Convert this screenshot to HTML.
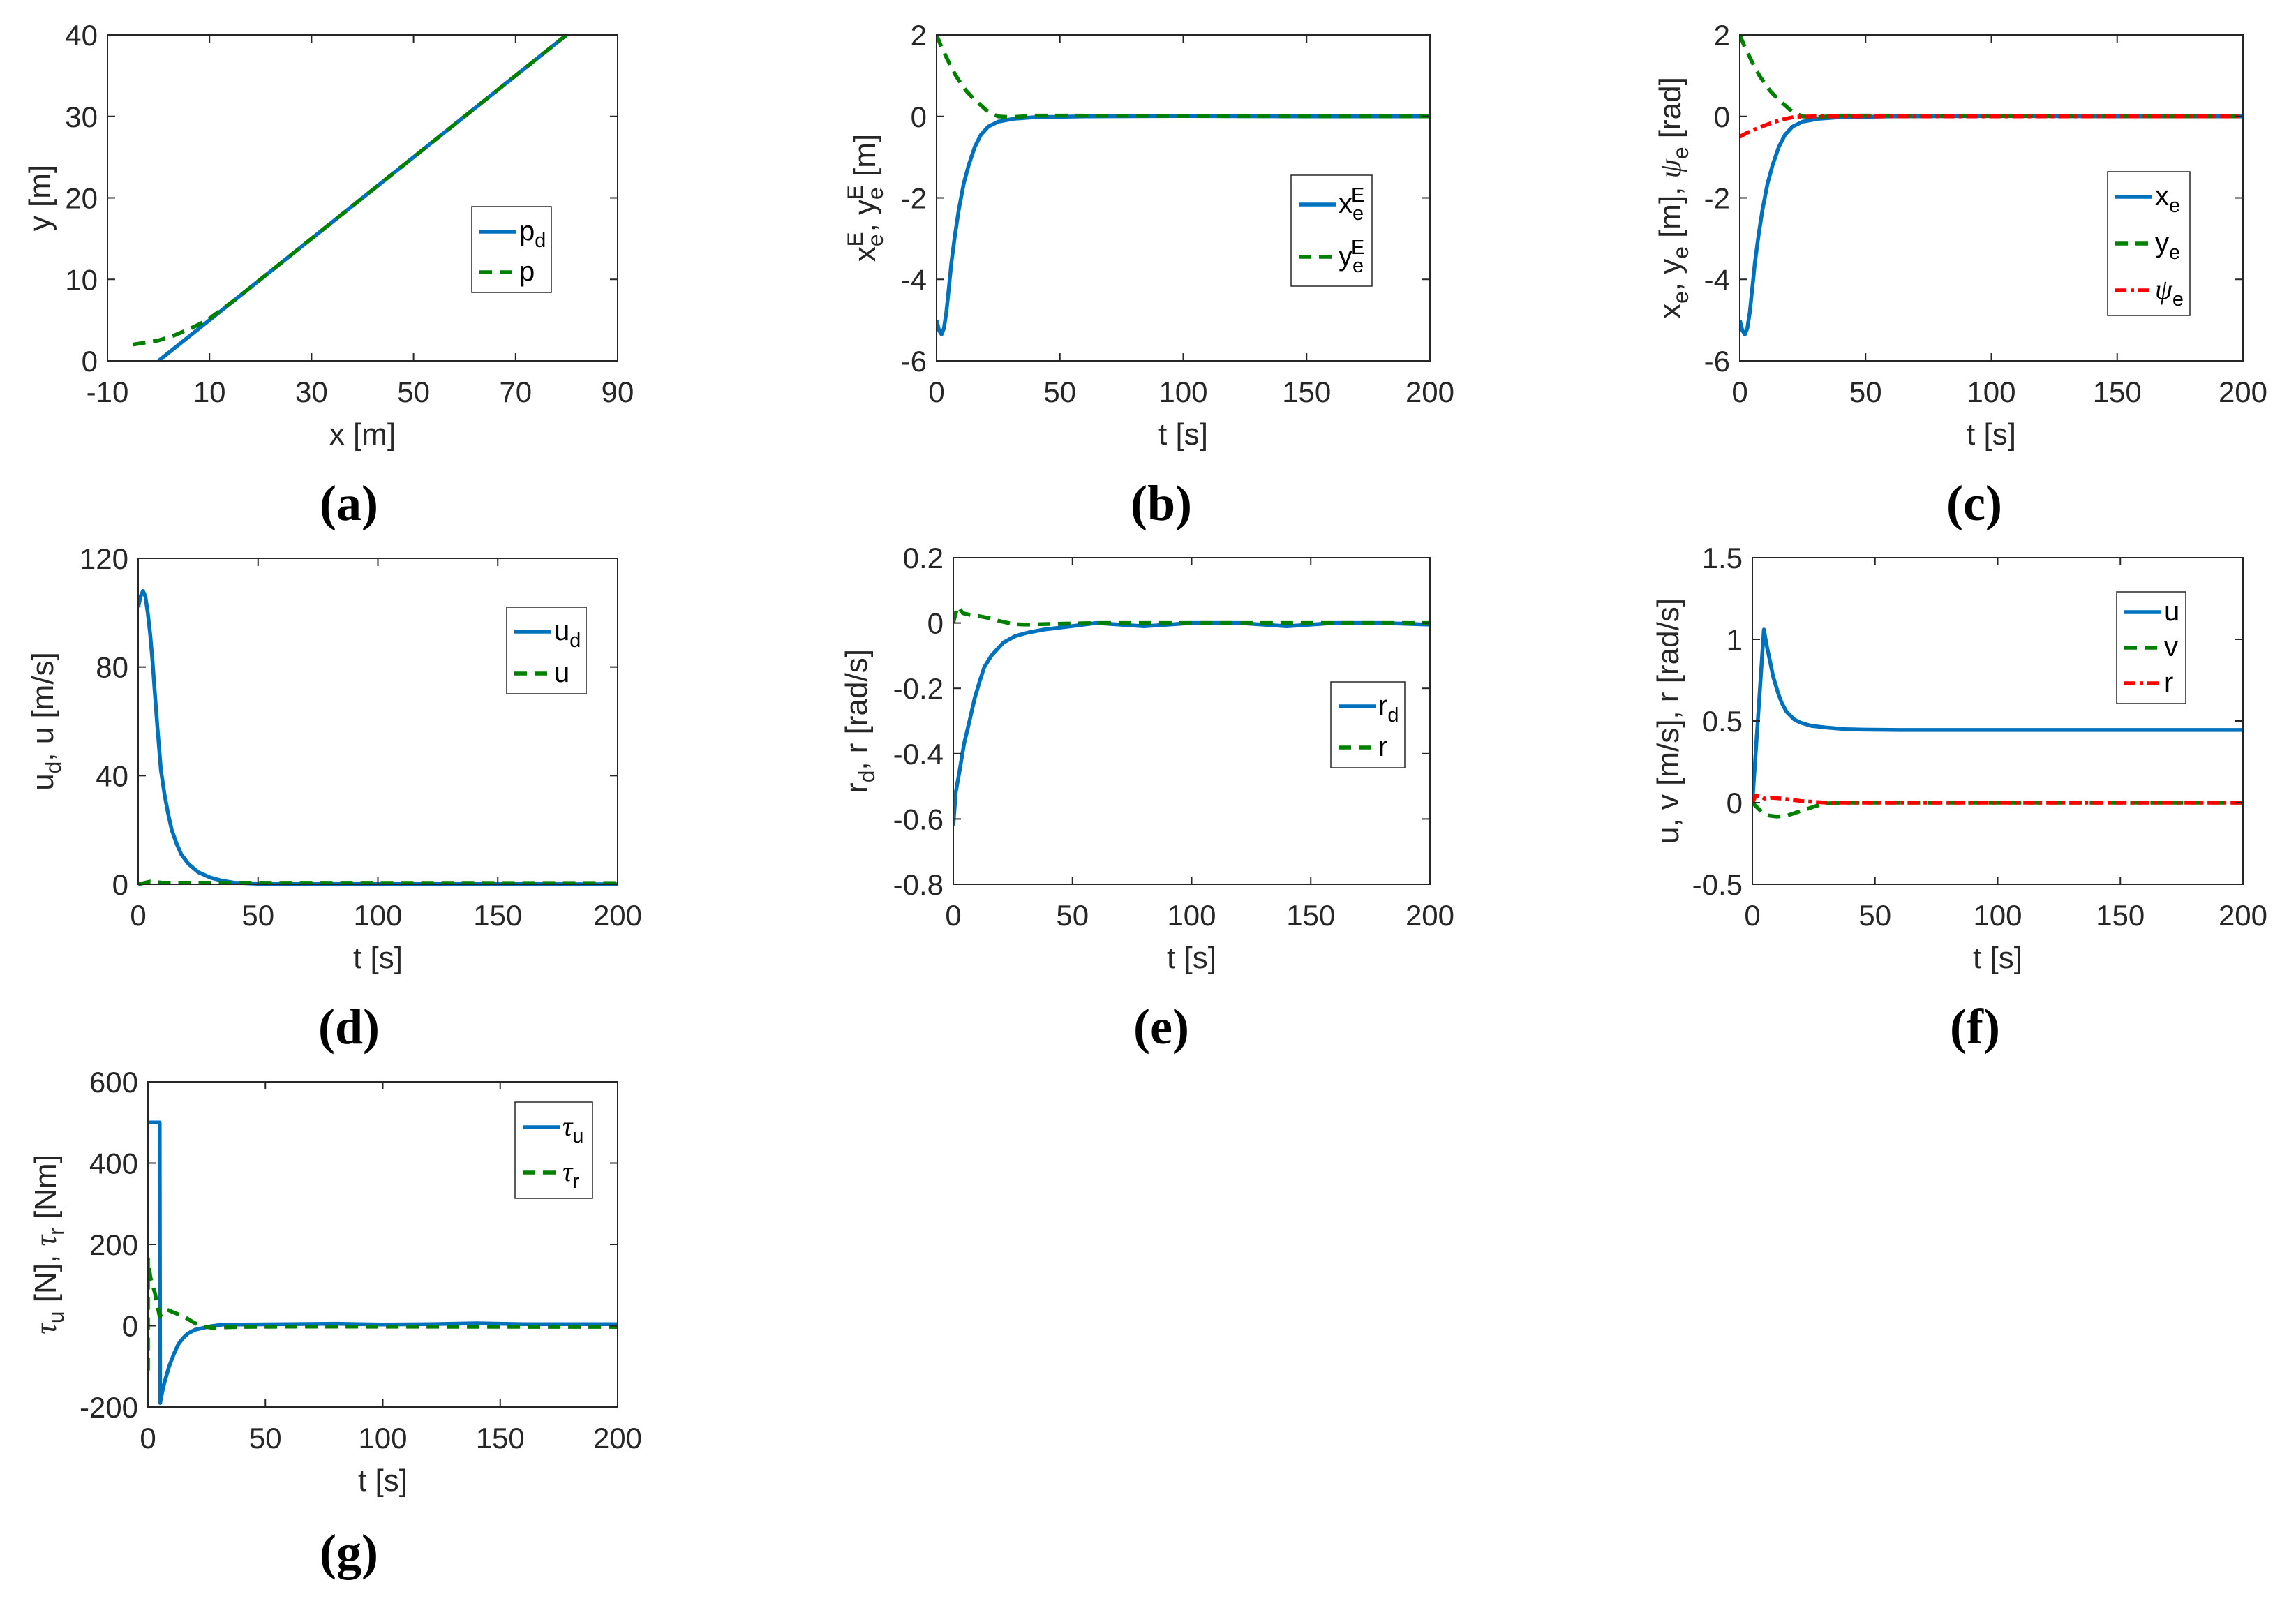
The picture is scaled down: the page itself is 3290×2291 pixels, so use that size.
<!DOCTYPE html>
<html><head><meta charset="utf-8"><style>
html,body{margin:0;padding:0;background:#fff;}
svg{display:block;font-family:"Liberation Sans",sans-serif;}
</style></head><body>
<svg id="fig" width="3290" height="2291" viewBox="0 0 3290 2291" xmlns="http://www.w3.org/2000/svg"></svg>
<script>
// ---- data ----
const aPdX=[0,80], aPdY=[0,40];
const aPX=[-5,-3,0,3,6,8,10,15,80], aPY=[2,2.2,2.5,3.1,3.9,4.5,5.2,7.5,40];
const xeT=[0,1,2,3,4,5,6,7.5,9,11,13,15.5,18,21,25,31,40,60,100,150,200];
const xeV=[-5,-5.25,-5.35,-5.2,-4.8,-4.2,-3.6,-2.9,-2.3,-1.65,-1.2,-0.75,-0.45,-0.25,-0.13,-0.06,-0.02,0,0.01,0,0];
const yeT=[0,2,4,6,8,10,12,14,16,18,20,22,25,30,40,50,100,200];
const yeV=[2,1.7,1.45,1.2,0.98,0.8,0.63,0.5,0.38,0.27,0.16,0.08,0,-0.02,0.02,0.02,0.01,0];
const psiT=[0,3,6,10,14,18,22,30,200];
const psiV=[-0.5,-0.4,-0.32,-0.22,-0.13,-0.06,-0.01,0,0];
const udT=[0,1,2,3,4,5,6,7,8,9.5,11,12.5,14,16,18,21,25,30,35,40,50,200];
const udV=[102,106,108,106,100,92,82,70,58,42,33,26,20,15,11,7.5,4.5,2.5,1.3,0.6,0.2,0];
const uDT=[0,5,10,200], uDV=[0,1,0.6,0.45];
const rdT=[0,1,2.7,4.5,6.8,9,11,13,16,21,26,31,38,46,60,80,100,120,140,160,180,200];
const rdV=[-0.62,-0.52,-0.45,-0.37,-0.3,-0.23,-0.18,-0.135,-0.1,-0.06,-0.04,-0.03,-0.02,-0.013,0,-0.01,0,0,-0.01,0,0,-0.005];
const rET=[0,1,2,4,7,10,15,20,25,30,40,60,200];
const rEV=[0,0.03,0.05,0.03,0.025,0.022,0.015,0.005,-0.003,-0.005,-0.003,0,0];
const uFT=[0,4.7,6,7,8.5,10.5,12,14,17,19.5,24,30,38,45,60,200];
const uFV=[0,1.06,0.95,0.88,0.77,0.67,0.61,0.555,0.51,0.49,0.47,0.46,0.45,0.447,0.445,0.445];
const vFT=[0,2,4,7,10,14,18,22,26,30,40,200];
const vFV=[0,-0.03,-0.06,-0.08,-0.085,-0.08,-0.06,-0.04,-0.02,-0.005,0,0];
const rFT=[0,1.5,3,5,8,12,20,30,200];
const rFV=[0,0.045,0.04,0.025,0.03,0.025,0.01,0,0];
const tuT=[0,5,5.2,6,7,9,11,13,15,17,20,23,27,32,40,60,80,100,120,140,160,180,200];
const tuV=[500,500,-190,-165,-140,-100,-70,-45,-30,-19,-10,-6,-1,3,3,4,5,3,4,6,4,4,4];
const trT=[0,0,1,2,3,4,5,6,8,10,13,16,19,22,27,32,40,60,200];
const trV=[-110,165,120,100,80,50,22,30,40,35,28,20,10,0,-5,-4,-3,-2,-3];
const tTicks=[0,50,100,150,200];
const aXTicks=[-10,10,30,50,70,90], aYTicks=[0,10,20,30,40];
const bYTicks=[-6,-4,-2,0,2];
const dYTicks=[0,40,80,120];
const eYTicks=[-0.8,-0.6,-0.4,-0.2,0,0.2];
const fYTicks=[-0.5,0,0.5,1,1.5];
const gYTicks=[-200,0,200,400,600];

const NS="http://www.w3.org/2000/svg";
const svg=document.getElementById('fig');
const BLUE="#0072BD",GREEN="#008000",RED="#FF0000";
const STY={solid:{c:BLUE,d:null,w:5.5},dash:{c:GREEN,d:"18,11",w:5.5},dashdot:{c:RED,d:"16,6,5,6",w:5.5}};
function mk(tag,attrs,parent){const e=document.createElementNS(NS,tag);for(const k in attrs)e.setAttribute(k,attrs[k]);(parent||svg).appendChild(e);return e;}
function rich(el,parts){
  parts.forEach(p=>{const ts=document.createElementNS(NS,'tspan');ts.textContent=p[0];
    if(p[1]==='sub'){ts.setAttribute('baseline-shift','-35%');ts.setAttribute('font-size','72%');}
    if(p[1]==='sup'){ts.setAttribute('baseline-shift','55%');ts.setAttribute('font-size','72%');ts.setAttribute('dx','-18');}
    if(p[1]==='it'){ts.setAttribute('font-family','Liberation Serif, serif');ts.setAttribute('font-style','italic');}
    el.appendChild(ts);});
}
function fmt(v){return String(v);}
function panel(P){
  const g=mk('g',{});
  
  
  const X=v=>P.L+(v-P.xd[0])/(P.xd[1]-P.xd[0])*(P.R-P.L);
  const Y=v=>P.B-(v-P.yd[0])/(P.yd[1]-P.yd[0])*(P.B-P.T);
  const cp='cp-'+P.name;
  const defs=mk('defs',{},g);const c=mk('clipPath',{id:cp},defs);mk('rect',{x:P.L,y:P.T-3,width:P.R-P.L,height:P.B-P.T+6},c);
  P.series.forEach(s=>{const st=STY[s.style];
    let d='';s.x.forEach((xv,i)=>{d+=(i?'L':'M')+X(xv).toFixed(1)+','+Y(s.y[i]).toFixed(1);});
    const p=mk('path',{d:d,fill:'none',stroke:st.c,'stroke-width':st.w,'stroke-linejoin':'round','clip-path':'url(#'+cp+')'},g);
    if(st.d)p.setAttribute('stroke-dasharray',st.d);
    
    
  });
  const box=mk('rect',{x:P.L,y:P.T,width:P.R-P.L,height:P.B-P.T,fill:'none',stroke:'#262626','stroke-width':2},g);
  
  
  P.xt.forEach(v=>{const x=X(v);
    mk('line',{x1:x,y1:P.B,x2:x,y2:P.B-11,stroke:'#262626','stroke-width':2},g);
    mk('line',{x1:x,y1:P.T,x2:x,y2:P.T+11,stroke:'#262626','stroke-width':2},g);
    const t=mk('text',{x:x,y:P.B+59,'text-anchor':'middle','font-size':42,fill:'#262626'},g);t.textContent=fmt(v);
    
    
  });
  P.yt.forEach(v=>{const y=Y(v);
    mk('line',{x1:P.L,y1:y,x2:P.L+11,y2:y,stroke:'#262626','stroke-width':2},g);
    mk('line',{x1:P.R,y1:y,x2:P.R-11,y2:y,stroke:'#262626','stroke-width':2},g);
    const t=mk('text',{x:P.L-14,y:y+15,'text-anchor':'end','font-size':42,fill:'#262626'},g);t.textContent=fmt(v);
    
    
  });
  const xl=mk('text',{x:(P.L+P.R)/2,y:P.B+120,'text-anchor':'middle','font-size':44,fill:'#262626'},g);
  rich(xl,P.xlab);
  
  
  const cy=(P.T+P.B)/2;
  const yl=mk('text',{x:P.ylx,y:cy,'text-anchor':'middle','font-size':44,fill:'#262626',transform:'rotate(-90 '+P.ylx+' '+cy+')'},g);
  rich(yl,P.ylab);
  
  
  const Lg=P.leg;
  const lg=mk('g',{},g);
  
  
  mk('rect',{x:Lg.x,y:Lg.y,width:Lg.w,height:Lg.h,fill:'#fff',stroke:'#262626','stroke-width':1.5},lg);
  Lg.items.forEach((it,i)=>{const y=Lg.y0+i*Lg.dy;const st=STY[it.style];
    const e=mk('g',{},lg);
    
    
    const l=mk('line',{x1:Lg.x+11,y1:y,x2:Lg.x+64,y2:y,stroke:st.c,'stroke-width':5.5},e);
    if(st.d)l.setAttribute('stroke-dasharray',st.d);
    const t=mk('text',{x:Lg.x+68,y:y+12,'font-size':40,fill:'#000'},e);rich(t,it.lab);
  });
  const pl=mk('text',{x:P.lx,y:P.ly,'text-anchor':'middle','font-size':72,'font-weight':'bold','font-family':'Liberation Serif, serif',fill:'#000'},g);
  pl.textContent=P.plab;
  
  
}
const tlab=[['t [s]','n']];
panel({name:'panel-a',L:154,R:885,T:50,B:517,xd:[-10,90],yd:[0,40],xt:aXTicks,yt:aYTicks,
  series:[{id:'line-pd',style:'solid',x:aPdX,y:aPdY},{id:'line-p',style:'dash',x:aPX,y:aPY}],
  xlab:[['x [m]','n']],ylab:[['y [m]','n']],ylx:72,
  leg:{x:676,y:296,w:114,h:123,y0:332,dy:58,items:[{style:'solid',lab:[['p','n'],['d','sub']]},{style:'dash',lab:[['p','n']]}]},
  plab:'(a)',lx:500,ly:745});
panel({name:'panel-b',L:1342,R:2049,T:50,B:517,xd:[0,200],yd:[-6,2],xt:tTicks,yt:bYTicks,
  series:[{id:'line-xe',style:'solid',x:xeT,y:xeV},{id:'line-ye',style:'dash',x:yeT,y:yeV}],
  xlab:tlab,ylab:[['x','n'],['e','sub'],['E','sup'],[', y','n'],['e','sub'],['E','sup'],[' [m]','n']],ylx:1254,
  leg:{x:1850,y:251,w:116,h:159,y0:293,dy:75,items:[{style:'solid',lab:[['x','n'],['e','sub'],['E','sup']]},{style:'dash',lab:[['y','n'],['e','sub'],['E','sup']]}]},
  plab:'(b)',lx:1664,ly:745});
panel({name:'panel-c',L:2493,R:3214,T:50,B:517,xd:[0,200],yd:[-6,2],xt:tTicks,yt:bYTicks,
  series:[{id:'line-xe',style:'solid',x:xeT,y:xeV},{id:'line-ye',style:'dash',x:yeT,y:yeV},{id:'line-psi-e',style:'dashdot',x:psiT,y:psiV}],
  xlab:tlab,ylab:[['x','n'],['e','sub'],[', y','n'],['e','sub'],[' [m], ','n'],['ψ','it'],['e','sub'],[' [rad]','n']],ylx:2408,
  leg:{x:3020,y:246,w:118,h:206,y0:282,dy:67,items:[{style:'solid',lab:[['x','n'],['e','sub']]},{style:'dash',lab:[['y','n'],['e','sub']]},{style:'dashdot',lab:[['ψ','it'],['e','sub']]}]},
  plab:'(c)',lx:2829,ly:745});
panel({name:'panel-d',L:198,R:885,T:800,B:1267,xd:[0,200],yd:[0,120],xt:tTicks,yt:dYTicks,
  series:[{id:'line-ud',style:'solid',x:udT,y:udV},{id:'line-u',style:'dash',x:uDT,y:uDV}],
  xlab:tlab,ylab:[['u','n'],['d','sub'],[', u [m/s]','n']],ylx:76,
  leg:{x:726,y:870,w:114,h:124,y0:905,dy:60,items:[{style:'solid',lab:[['u','n'],['d','sub']]},{style:'dash',lab:[['u','n']]}]},
  plab:'(d)',lx:500,ly:1495});
panel({name:'panel-e',L:1366,R:2049,T:799,B:1267,xd:[0,200],yd:[-0.8,0.2],xt:tTicks,yt:eYTicks,
  series:[{id:'line-rd',style:'solid',x:rdT,y:rdV},{id:'line-r',style:'dash',x:rET,y:rEV}],
  xlab:tlab,ylab:[['r','n'],['d','sub'],[', r [rad/s]','n']],ylx:1242,
  leg:{x:1907,y:977,w:106,h:123,y0:1012,dy:59,items:[{style:'solid',lab:[['r','n'],['d','sub']]},{style:'dash',lab:[['r','n']]}]},
  plab:'(e)',lx:1664,ly:1495});
panel({name:'panel-f',L:2511,R:3214,T:799,B:1267,xd:[0,200],yd:[-0.5,1.5],xt:tTicks,yt:fYTicks,
  series:[{id:'line-u',style:'solid',x:uFT,y:uFV},{id:'line-v',style:'dash',x:vFT,y:vFV},{id:'line-r',style:'dashdot',x:rFT,y:rFV}],
  xlab:tlab,ylab:[['u, v [m/s], r [rad/s]','n']],ylx:2405,
  leg:{x:3033,y:848,w:99,h:160,y0:877,dy:51,items:[{style:'solid',lab:[['u','n']]},{style:'dash',lab:[['v','n']]},{style:'dashdot',lab:[['r','n']]}]},
  plab:'(f)',lx:2830,ly:1495});
panel({name:'panel-g',L:212,R:885,T:1550,B:2016,xd:[0,200],yd:[-200,600],xt:tTicks,yt:gYTicks,
  series:[{id:'line-tau-u',style:'solid',x:tuT,y:tuV},{id:'line-tau-r',style:'dash',x:trT,y:trV}],
  xlab:tlab,ylab:[['τ','it'],['u','sub'],[' [N], ','n'],['τ','it'],['r','sub'],[' [Nm]','n']],ylx:80,
  leg:{x:738,y:1579,w:111,h:138,y0:1615,dy:65,items:[{style:'solid',lab:[['τ','it'],['u','sub']]},{style:'dash',lab:[['τ','it'],['r','sub']]}]},
  plab:'(g)',lx:500,ly:2248});
</script>
</body></html>
